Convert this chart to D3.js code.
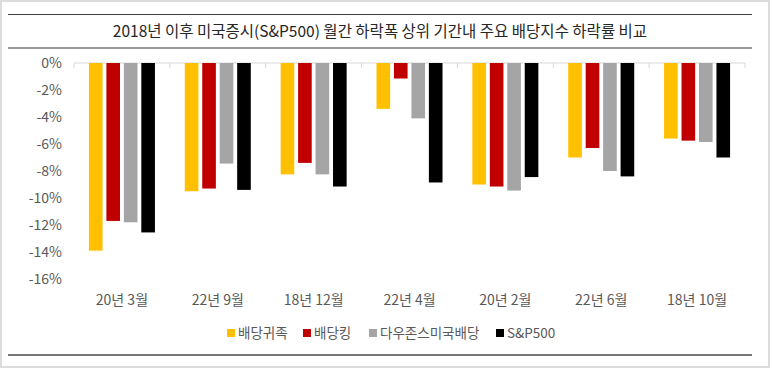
<!DOCTYPE html>
<html><head><meta charset="utf-8">
<script src="https://cdn.jsdelivr.net/npm/d3@7/dist/d3.min.js"></script>
<style>body{margin:0;background:#fff;}svg{display:block;font-family:"Noto Sans CJK KR","Noto Sans",sans-serif;}</style>
</head><body>
<script>
const title = "2018년 이후 미국증시(S&P500) 월간 하락폭 상위 기간내 주요 배당지수 하락률 비교";
const categories = ["20년 3월","22년 9월","18년 12월","22년 4월","20년 2월","22년 6월","18년 10월"];
const seriesNames = ["배당귀족","배당킹","다우존스미국배당","S&P500"];
const seriesColors = ["#FFC000","#C00000","#A5A5A5","#000000"];
const aristocrats = [-13.9,-9.5,-8.25,-3.4,-9.0,-7.0,-5.6];
const kings = [-11.7,-9.3,-7.4,-1.15,-9.15,-6.3,-5.75];
const dowJones = [-11.8,-7.45,-8.25,-4.1,-9.45,-8.0,-5.85];
const sp500 = [-12.55,-9.4,-9.15,-8.85,-8.45,-8.4,-7.0];
const yTicks = [0,-2,-4,-6,-8,-10,-12,-14,-16];
const allSeries = [aristocrats, kings, dowJones, sp500];

const W = 773, H = 369;
const svg = d3.select("body").append("svg").attr("width", W).attr("height", H);

// frame
svg.append("rect").attr("x",1).attr("y",1).attr("width",W-5).attr("height",H-3)
  .attr("fill","none").attr("stroke","#dcdcdc").attr("stroke-width",2);

svg.append("line").attr("x1",8).attr("x2",752).attr("y1",14.5).attr("y2",14.5).attr("stroke","#404040").attr("stroke-width",1.2);
svg.append("text").attr("x",380).attr("y",37).attr("text-anchor","middle").attr("font-size",15.5).attr("fill","#262626").text(title);
svg.append("line").attr("x1",8).attr("x2",752).attr("y1",48).attr("y2",48).attr("stroke","#999").attr("stroke-width",2);

const x0 = d3.scaleBand().domain(categories).range([74,745]).paddingInner(0).paddingOuter(0);
const y = d3.scaleLinear().domain([-16,0]).range([279,63]);
const x1 = d3.scaleBand().domain(d3.range(4)).range([0,66]).paddingInner(0.22);
const groupOffset = (x0.bandwidth()-66)/2;

// y axis labels
const yAxis = d3.axisLeft(y).tickValues(yTicks).tickFormat(d => d + "%").tickSize(0).tickPadding(0);
const ya = svg.append("g").attr("transform","translate(62,0)").call(yAxis);
ya.select(".domain").remove();
ya.selectAll("text").attr("font-size",14).attr("fill","#595959").attr("font-family","'Noto Sans CJK KR',sans-serif");

// zero line with ticks
svg.append("line").attr("x1",74).attr("x2",745).attr("y1",y(0)).attr("y2",y(0)).attr("stroke","#d9d9d9");
svg.selectAll(".ctick").data(d3.range(categories.length+1)).join("line")
  .attr("x1",i=>74+i*x0.bandwidth()).attr("x2",i=>74+i*x0.bandwidth())
  .attr("y1",y(0)).attr("y2",y(0)+5).attr("stroke","#d9d9d9");

// bars
const groups = svg.selectAll(".grp").data(categories).join("g")
  .attr("transform", c => `translate(${x0(c)+groupOffset},0)`);
groups.selectAll("rect").data((c,ci) => allSeries.map((s,si)=>({si, v:s[ci]}))).join("rect")
  .attr("x", d => x1(d.si)).attr("width", x1.bandwidth())
  .attr("y", y(0)).attr("height", d => y(d.v)-y(0))
  .attr("fill", d => seriesColors[d.si]);

// category labels
svg.selectAll(".clab").data(categories).join("text")
  .attr("x", c => x0(c)+x0.bandwidth()/2).attr("y", 305)
  .attr("text-anchor","middle").attr("font-size",14).attr("fill","#595959").text(c=>c);

// legend
const legX = [227, 303, 369, 496];
const leg = svg.selectAll(".leg").data(seriesNames).join("g").attr("transform",(d,i)=>`translate(${legX[i]},333)`);
leg.append("rect").attr("x",0).attr("y",-4).attr("width",8).attr("height",8).attr("fill",(d,i)=>seriesColors[i]);
leg.append("text").attr("x",11).attr("y",5).attr("font-size",13.5).attr("fill","#595959").text(d=>d);

svg.append("line").attr("x1",8).attr("x2",752).attr("y1",355).attr("y2",355).attr("stroke","#777").attr("stroke-width",2);
</script>
</body></html>
